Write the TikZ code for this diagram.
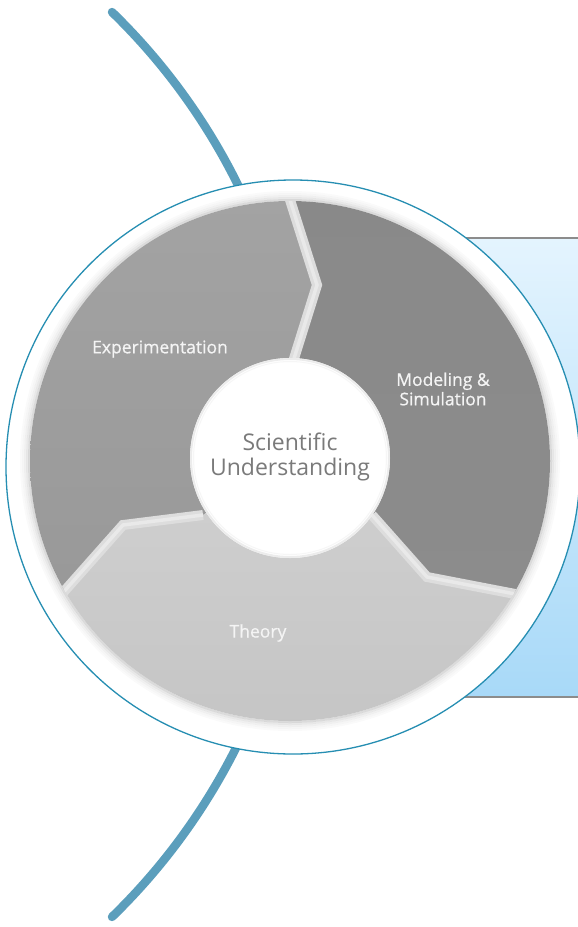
\documentclass[tikz,border=0pt]{standalone}
\usepackage{fontspec}
\setmainfont{Open Sans}
\newfontfamily\labelfont[FakeBold=0.7]{Open Sans}
\begin{document}
\begin{tikzpicture}[x=1pt,y=-1pt,
  bigarc/.style={line width=8.5pt, line cap=round, draw={rgb,255:red,91;green,158;blue,188}},
  gapline/.style={line width=10pt, line join=miter, draw={rgb,255:red,221;green,221;blue,221}},
  gapcore/.style={line width=3.5pt, line join=miter, draw={rgb,255:red,233;green,233;blue,233}},
  seglabel/.style={text={rgb,255:red,244;green,244;blue,244}, font=\labelfont\fontsize{17.5}{19.5}\selectfont, align=center, inner sep=0pt},
  centerlabel/.style={text={rgb,255:red,122;green,122;blue,122}, font=\fontsize{23}{25}\selectfont, align=center, inner sep=0pt}]
\useasboundingbox (0,0) rectangle (578,927);
% coordinates
\coordinate (O) at (293,467);     % outer white disk
\coordinate (G) at (290,461);     % grey ring
\coordinate (I) at (290,458);     % inner circle
\coordinate (AC) at (-327.5,464.5); % centre of the big arc
% big arc, top and bottom pieces
\draw[bigarc] (AC) ++(-45.83:630.8) arc[start angle=-45.83, end angle=-25.5, radius=630.8];
\draw[bigarc] (AC) ++(45.83:630.8) arc[start angle=45.83, end angle=25.5, radius=630.8];
% blue panel
\shade[top color={rgb,255:red,228;green,244;blue,254}, bottom color={rgb,255:red,168;green,217;blue,248}]
  (440,238) rectangle (590,697);
\draw[line width=1.2pt, draw={rgb,255:red,140;green,140;blue,140}] (440,238) -- (590,238);
\draw[line width=1.2pt, draw={rgb,255:red,140;green,140;blue,140}] (440,697) -- (590,697);
% white disk and blue outline
\fill[white] (O) circle (287);
\draw[line width=1.3pt, draw={rgb,255:red,38;green,142;blue,178}] (O) circle (287);
% soft shadow around ring
\foreach \r/\o in {261/0.14,263/0.09,265/0.06,267/0.035,269/0.02}{
  \draw[black, opacity=\o, line width=2pt] (G) circle (\r);
}
% segments
\begin{scope}
\clip (G) circle (260);
\shade[top color={rgb,255:red,168;green,168;blue,168}, bottom color={rgb,255:red,150;green,150;blue,150}]
  (290,461) -- (292,365) -- (317,285) -- (278,162) -- (278,0) -- (-100,0) -- (-100,700) -- (23,638) -- (68,587) -- (123,525) -- (203,515) -- cycle;
\shade[top color={rgb,255:red,136;green,136;blue,136}, bottom color={rgb,255:red,140;green,140;blue,140}]
  (290,461) -- (292,365) -- (317,285) -- (278,162) -- (278,0) -- (700,0) -- (700,629) -- (600,610) -- (510,593) -- (427,577) -- (372,515) -- cycle;
\shade[top color={rgb,255:red,208;green,208;blue,208}, bottom color={rgb,255:red,186;green,186;blue,186}]
  (290,461) -- (203,515) -- (123,525) -- (68,587) -- (23,638) -- (-100,700) -- (-100,1000) -- (700,1000) -- (700,629) -- (600,610) -- (510,593) -- (427,577) -- (372,515) -- cycle;
% gaps
\draw[gapline] (292,365) -- (317,285) -- (278,162);
\draw[gapline] (203,515) -- (123,525) -- (68,587) -- (23,638);
\draw[gapline] (372,515) -- (427,577) -- (510,593) -- (600,610);
\draw[gapcore] (292,365) -- (317,285) -- (278,162);
\draw[gapcore] (203,515) -- (123,525) -- (68,587) -- (23,638);
\draw[gapcore] (372,515) -- (427,577) -- (510,593) -- (600,610);
\end{scope}
% inner circle
\fill[white] (I) circle (100);
\draw[line width=2pt, draw={rgb,255:red,236;green,236;blue,236}] (I) circle (99);
\draw[line width=1pt, draw={rgb,255:red,246;green,246;blue,246}] (I) circle (96.5);
% labels
\node[seglabel] (exp) at (160,349) {Experimentation};
\node[seglabel] (mod) at (443,389) {Modeling \&\\Simulation};
\node[seglabel] (the) at (258,633) {Theory};
\node[centerlabel] (sci) at (290,457) {Scientific\\Understanding};
\end{tikzpicture}
\end{document}
